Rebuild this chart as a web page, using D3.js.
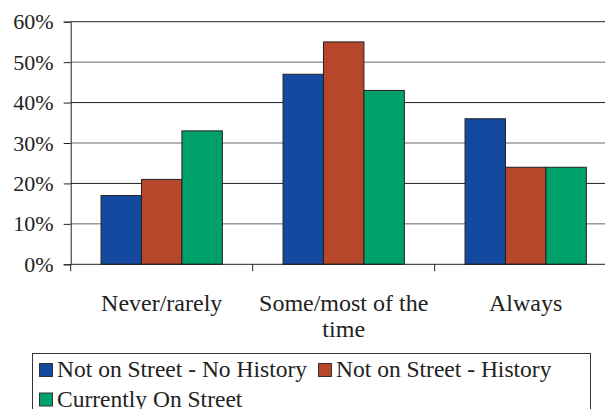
<!DOCTYPE html>
<html>
<head>
<meta charset="utf-8">
<script src="https://cdn.jsdelivr.net/npm/d3@7"></script>
<style>
  body { margin: 0; background: #fff; }
  svg, svg text { font-family: 'Liberation Serif', Tinos, 'Times New Roman', 'DejaVu Serif', serif !important; }
</style>
</head>
<body>
<div id="chart"></div>
<script>
// data
const categories = ['Never/rarely', 'Some/most of the time', 'Always']
const categoryLines = [['Never/rarely'], ['Some/most of the', 'time'], ['Always']]
const seriesNames = ['Not on Street - No History', 'Not on Street - History', 'Currently On Street']
const noHistory = [17, 47, 36]
const history = [21, 55, 24]
const onStreet = [33, 43, 24]
const yTicks = [0, 10, 20, 30, 40, 50, 60]
const colors = ['#134a9f', '#b7472a', '#00a06b']

const fontFamily = "'Liberation Serif', Tinos, 'Times New Roman', 'DejaVu Serif', serif"

const dimensions = {
  width: 605,
  height: 409,
  margin: { top: 21.7, left: 70.7 },
  ctrWidth: 546,
  ctrHeight: 242.6
}

const series = [noHistory, history, onStreet]
const dataset = categories.map((c, i) => ({
  category: c,
  values: series.map((s, j) => ({ name: seriesNames[j], value: s[i], idx: j }))
}))

const svg = d3.select('#chart')
  .append('svg')
  .attr('width', dimensions.width)
  .attr('height', dimensions.height)
  .style('font-family', fontFamily)

const ctr = svg.append('g')
  .attr('transform', `translate(${dimensions.margin.left}, ${dimensions.margin.top})`)

// Scales
const xScale = d3.scaleBand()
  .domain(categories)
  .range([0, dimensions.ctrWidth])
  .padding(0)

const xInner = d3.scaleBand()
  .domain(seriesNames)
  .range([0, xScale.bandwidth()])
  .paddingInner(0)
  .paddingOuter(0.75)

const yScale = d3.scaleLinear()
  .domain([0, 60])
  .range([dimensions.ctrHeight, 0])

// gridlines
ctr.append('g')
  .selectAll('line')
  .data(yTicks.filter(d => d > 0))
  .join('line')
  .attr('x1', 0)
  .attr('x2', dimensions.ctrWidth)
  .attr('y1', d => yScale(d))
  .attr('y2', d => yScale(d))
  .attr('stroke', (d, i) => i % 2 ? '#222' : '#666')
  .attr('stroke-width', 1)

// bars
const groups = ctr.append('g')
  .selectAll('g')
  .data(dataset)
  .join('g')
  .attr('transform', d => `translate(${xScale(d.category)}, 0)`)

groups.selectAll('rect')
  .data(d => d.values)
  .join('rect')
  .attr('x', d => xInner(d.name))
  .attr('y', d => yScale(d.value))
  .attr('width', xInner.bandwidth())
  .attr('height', d => dimensions.ctrHeight - yScale(d.value))
  .attr('fill', d => colors[d.idx])
  .attr('stroke', '#222')
  .attr('stroke-width', 1)

// Axes
const yAxis = d3.axisLeft(yScale)
  .tickValues(yTicks)
  .tickSize(7)
  .tickPadding(10)
  .tickFormat(d => d + '%')

const yAxisGroup = ctr.append('g').call(yAxis)
  .attr('font-family', null)
yAxisGroup.select('.domain').attr('stroke', '#222')
yAxisGroup.selectAll('.tick line').attr('stroke', '#222')
yAxisGroup.selectAll('.tick text')
  .style('font-size', '22px')
  .style('font-family', fontFamily)
  .attr('fill', '#222')

const xAxisGroup = ctr.append('g')
  .attr('transform', `translate(0, ${dimensions.ctrHeight})`)

xAxisGroup.append('line')
  .attr('x1', 0)
  .attr('x2', dimensions.ctrWidth)
  .attr('stroke', '#222')

xAxisGroup.selectAll('line.tk')
  .data(categories)
  .join('line')
  .classed('tk', true)
  .attr('x1', d => xScale(d))
  .attr('x2', d => xScale(d))
  .attr('y1', 0)
  .attr('y2', 7)
  .attr('stroke', '#222')

xAxisGroup.selectAll('text')
  .data(categories)
  .join('text')
  .attr('x', d => xScale(d) + xScale.bandwidth() / 2)
  .attr('y', 46.5)
  .attr('text-anchor', 'middle')
  .attr('fill', '#222')
  .style('font-size', '24px')
  .style('font-family', fontFamily)
  .each(function (d, i) {
    d3.select(this).selectAll('tspan')
      .data(categoryLines[i])
      .join('tspan')
      .attr('x', xScale(d) + xScale.bandwidth() / 2)
      .attr('dy', (t, k) => k === 0 ? 0 : 26)
      .text(t => t)
  })

// Legend
const legend = svg.append('g')

legend.append('rect')
  .attr('x', 32.5)
  .attr('y', 353.5)
  .attr('width', 558)
  .attr('height', 80)
  .attr('fill', 'none')
  .attr('stroke', '#333')
  .attr('stroke-width', 1)

let lx = 39
let ly = 377
seriesNames.forEach((name, i) => {
  if (i === 2) { lx = 39; ly = 406.5 }
  legend.append('rect')
    .attr('x', lx + 0.5)
    .attr('y', ly - 13.5)
    .attr('width', 13)
    .attr('height', 13)
    .attr('fill', colors[i])
    .attr('stroke', '#333')
    .attr('stroke-width', 1)
  const t = legend.append('text')
    .attr('x', lx + 18)
    .attr('y', ly)
    .attr('fill', '#222')
    .style('font-size', '23.5px')
    .style('font-family', fontFamily)
    .text(name)
  lx = lx + 18 + t.node().getComputedTextLength() + 11
})
</script>
</body>
</html>
